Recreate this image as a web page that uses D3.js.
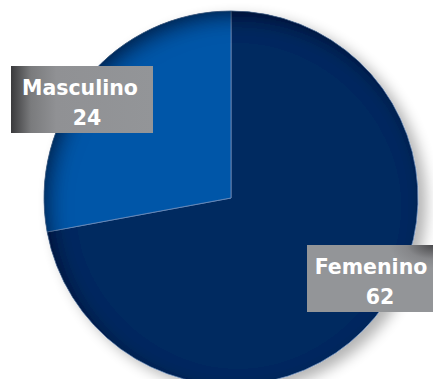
<!DOCTYPE html>
<html>
<head>
<meta charset="utf-8">
<script src="https://cdn.jsdelivr.net/npm/d3@7"></script>
<style>
  html, body { margin: 0; padding: 0; background: #ffffff; }
  svg { display: block; }
</style>
</head>
<body>
<svg id="chart" width="433" height="379"></svg>
<script>
// Distribución por sexo
const categories = ["Femenino", "Masculino"];
const values = [62, 24];
const colors = ["#002960", "#0357a8"];

const width = 433, height = 379;
const cx = 231, cy = 198, radius = 187;

const svg = d3.select("#chart");
const defs = svg.append("defs");

// soft drop shadow toward the lower right
const drop = defs.append("filter").attr("id", "drop")
  .attr("x", "-20%").attr("y", "-20%").attr("width", "140%").attr("height", "140%");
drop.append("feGaussianBlur").attr("in", "SourceAlpha").attr("stdDeviation", 7).attr("result", "b");
drop.append("feOffset").attr("in", "b").attr("dx", 8).attr("dy", 6).attr("result", "o");
drop.append("feComponentTransfer").attr("in", "o").attr("result", "s")
  .append("feFuncA").attr("type", "linear").attr("slope", 0.3);
const dm = drop.append("feMerge");
dm.append("feMergeNode").attr("in", "s");
dm.append("feMergeNode").attr("in", "SourceGraphic");

// inner shadow on the upper-left rim
const inner = defs.append("filter").attr("id", "inner")
  .attr("x", "-10%").attr("y", "-10%").attr("width", "120%").attr("height", "120%");
inner.append("feGaussianBlur").attr("in", "SourceAlpha").attr("stdDeviation", 10).attr("result", "blur");
inner.append("feOffset").attr("in", "blur").attr("dx", 7).attr("dy", 8).attr("result", "off");
inner.append("feComposite").attr("in", "SourceAlpha").attr("in2", "off")
  .attr("operator", "arithmetic").attr("k2", 1).attr("k3", -1).attr("result", "rim");
inner.append("feFlood").attr("flood-color", "#000814").attr("flood-opacity", 0.85).attr("result", "col");
inner.append("feComposite").attr("in", "col").attr("in2", "rim").attr("operator", "in").attr("result", "shade");
const im = inner.append("feMerge");
im.append("feMergeNode").attr("in", "SourceGraphic");
im.append("feMergeNode").attr("in", "shade");

// label box shading
const gM = defs.append("linearGradient").attr("id", "boxM")
  .attr("x1", "0%").attr("y1", "0%").attr("x2", "100%").attr("y2", "0%");
gM.append("stop").attr("offset", "0%").attr("stop-color", "#3a3a3c");
gM.append("stop").attr("offset", "14%").attr("stop-color", "#7a7b7d");
gM.append("stop").attr("offset", "32%").attr("stop-color", "#909194");
gM.append("stop").attr("offset", "100%").attr("stop-color", "#939598");

const gF = defs.append("radialGradient").attr("id", "boxF")
  .attr("cx", "100%").attr("cy", "0%").attr("r", "35%");
gF.append("stop").attr("offset", "0%").attr("stop-color", "#4a4a4c");
gF.append("stop").attr("offset", "60%").attr("stop-color", "#86878a");
gF.append("stop").attr("offset", "100%").attr("stop-color", "#939598");

const data = categories.map((c, i) => ({ name: c, value: values[i], color: colors[i] }));

const pie = d3.pie().value(d => d.value).sort(null);
const arc = d3.arc().innerRadius(0).outerRadius(radius);

const outer = svg.append("g").attr("transform", `translate(${cx},${cy})`).attr("filter", "url(#drop)");
const g = outer.append("g").attr("filter", "url(#inner)");

g.selectAll("path")
  .data(pie(data))
  .join("path")
  .attr("d", arc)
  .attr("fill", d => d.data.color)
  .attr("stroke", "#6f8dba")
  .attr("stroke-width", 0.8);

// data labels
const labels = [
  { name: "Masculino", value: values[1], x: 11, y: 66, w: 142, h: 67, fill: "url(#boxM)", tx: 80, vx: 87 },
  { name: "Femenino", value: values[0], x: 307, y: 245, w: 126, h: 67, fill: "url(#boxF)", tx: 371, vx: 380 }
];

const lg = svg.append("g");
labels.forEach(l => {
  lg.append("rect").attr("x", l.x).attr("y", l.y).attr("width", l.w).attr("height", l.h).attr("fill", l.fill);
  const t = lg.append("text")
    .attr("text-anchor", "middle")
    .attr("font-family", "'DejaVu Sans', sans-serif")
    .attr("font-weight", "bold")
    .attr("font-size", 20.5)
    .attr("fill", "#ffffff");
  t.append("tspan").attr("x", l.tx).attr("y", l.y + 29).text(l.name);
  t.append("tspan").attr("x", l.vx).attr("y", l.y + 59).text(l.value);
});
</script>
</body>
</html>
